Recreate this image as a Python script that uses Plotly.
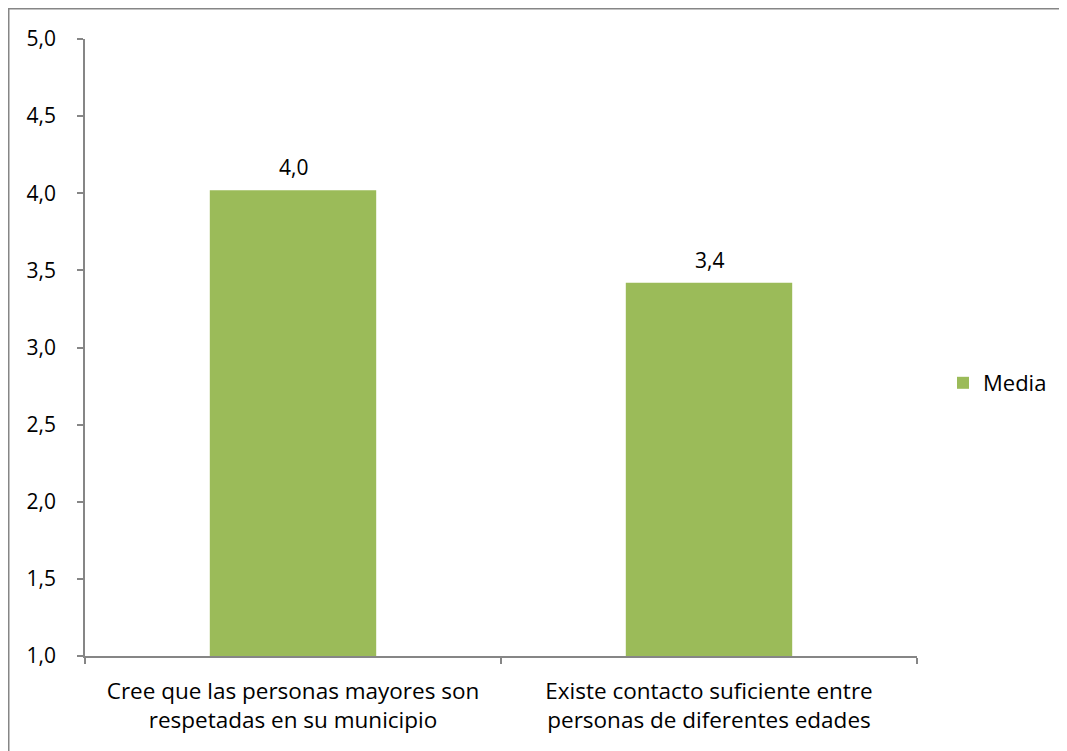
import plotly.graph_objects as go

# Data
categories = ["Cree que las personas mayores son<br>respetadas en su municipio",
              "Existe contacto suficiente entre<br>personas de diferentes edades"]
media = [4.02, 3.42]
series_name = "Media"

# page body adds an 8px margin, so the figure starts at (8, 8)
W, H = 1067, 751
pw, ph = 832, 617
L, T = 77, 31
R, B = W - L - pw, H - T - ph
FONT = "Open Sans, sans-serif"

fig = go.Figure()
fig.add_trace(go.Bar(
    x=categories, y=media, name=series_name,
    marker=dict(color="#9BBB59", line=dict(width=0)),
    showlegend=True,
))

# value labels above the bars
for c, v in zip(categories, media):
    fig.add_annotation(x=c, y=v, text=f"{v:.1f}".replace(".", ","),
                       showarrow=False, yanchor="bottom", yshift=7,
                       font=dict(size=21, color="#000000"))

# chart border (right/bottom edges fall outside the window)
fig.add_shape(type="rect", xref="paper", yref="paper",
              x0=(0.75 - L) / pw, x1=(W + 10 - L) / pw,
              y0=(H - B - (H + 10)) / ph, y1=(H - B - 0.75) / ph,
              line=dict(color="#868686", width=1.5), layer="below")

fig.update_layout(
    width=W, height=H,
    margin=dict(l=L, r=R, t=T, b=B, autoexpand=False),
    paper_bgcolor="white", plot_bgcolor="white",
    separators=",.",
    font=dict(family=FONT, size=21, color="#000000"),
    bargap=0.6,
    legend=dict(x=(935 - L) / pw, y=(H - B - 375) / ph, yanchor="middle",
                xanchor="left", font=dict(size=22), bgcolor="rgba(0,0,0,0)"),
    xaxis=dict(showline=True, linecolor="#868686", linewidth=1.5,
               ticks="outside", tickson="boundaries", ticklen=6,
               tickcolor="#868686", tickwidth=1.5, showgrid=False,
               ticklabelstandoff=14, tickfont=dict(size=22.5)),
    yaxis=dict(range=[1, 5], dtick=0.5, tick0=1, tickformat=".1f",
               showline=True, linecolor="#868686", linewidth=1.5,
               ticks="outside", ticklen=6, tickcolor="#868686", tickwidth=1.5,
               showgrid=False, zeroline=False, ticklabelstandoff=17),
)

fig.write_html("out.html")
